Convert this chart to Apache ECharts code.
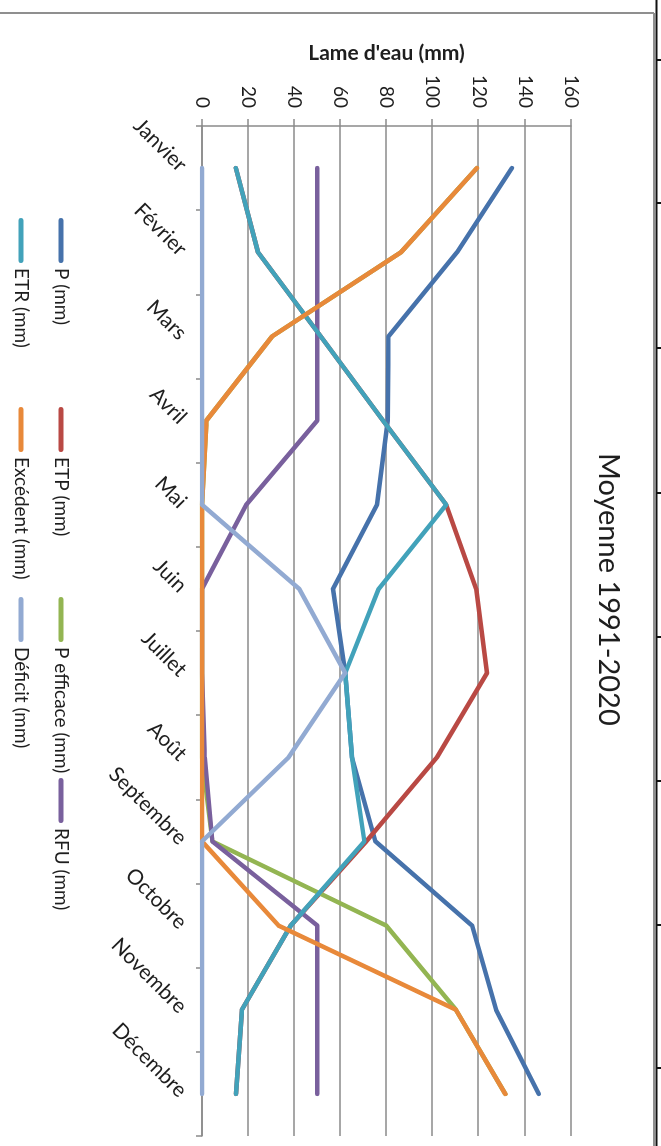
<!DOCTYPE html>
<html lang="fr">
<head>
<meta charset="utf-8">
<title>Moyenne 1991-2020</title>
<script src="https://cdn.jsdelivr.net/npm/echarts@6/dist/echarts.min.js"></script>
<style>
  html, body { margin: 0; padding: 0; background: #fff; overflow: hidden; }
  body { width: 661px; height: 1146px; position: relative; }
  /* the chart is laid out landscape and turned a quarter turn clockwise */
  #chart {
    position: absolute; left: 0; top: 0;
    width: 1146px; height: 661px;
    transform-origin: 0 0;
    transform: translate(661px, 0) rotate(90deg);
  }
</style>
</head>
<body>
<div id="chart"></div>
<script>
// Monthly water balance, 1991-2020 normals (mm)
const months = ['Janvier', 'Février', 'Mars', 'Avril', 'Mai', 'Juin', 'Juillet', 'Août', 'Septembre', 'Octobre', 'Novembre', 'Décembre'];
const valueTicks = { min: 0, max: 160, step: 20 };

const pluie      = [134.4, 110.6, 80.9, 80.5, 75.9, 56.8, 62.1, 65.0, 75.2, 117.1, 127.5, 146.0];
const etp        = [14.7, 24.3, 51.5, 78.5, 105.9, 118.9, 123.6, 101.9, 71.2, 38.5, 17.3, 14.7];
const pEfficace  = [119.2, 86.3, 30.4, 1.9, 0, 0, 0, 0, 4.5, 79.9, 110.1, 131.5];
const rfu        = [50, 50, 50, 50, 19.2, 0, 0, 1.2, 4.5, 50, 50, 50];
const etr        = [14.7, 24.3, 51.5, 78.5, 105.9, 76.6, 62.1, 65.0, 70.4, 38.5, 17.3, 14.7];
const excedent   = [119.2, 86.3, 30.4, 1.9, 0, 0, 0, 0, 0, 33.2, 110.1, 131.5];
const deficit    = [0, 0, 0, 0, 0, 42.2, 62.1, 37.6, 0, 0, 0, 0];

const FONT = 'Lato, "Open Sans", sans-serif';
const TEXT = '#1e1e1e';
const GRID = '#8a8a8a';

// capsule-shaped legend key, like a short stroke with round ends
const KEY_ICON = 'path://M2.5,0 L42.5,0 A2.5,2.5 0 0 1 42.5,5 L2.5,5 A2.5,2.5 0 0 1 2.5,0 Z';

function lineSeries(name, data, color) {
  return {
    name: name,
    type: 'line',
    data: data,
    symbol: 'none',
    smooth: false,
    color: color,
    itemStyle: { color: color },
    lineStyle: { width: 4.5, color: color, cap: 'round', join: 'round' },
    emphasis: { disabled: true }
  };
}

function legendColumn(names, left) {
  return {
    data: names.map(function (n) { return { name: n, icon: KEY_ICON }; }),
    orient: 'vertical',
    left: left,
    top: 584,
    itemWidth: 45,
    itemHeight: 5,
    itemGap: 18,
    selectedMode: false,
    textStyle: { fontFamily: FONT, fontSize: 19, color: TEXT, lineHeight: 22 }
  };
}

// ruler marks along the page edge
const rulerMarks = [60, 203, 348, 493, 637, 781, 925, 1068];

const chart = echarts.init(document.getElementById('chart'), null, { renderer: 'canvas', width: 1146, height: 661 });

chart.setOption({
  animation: false,
  backgroundColor: '#ffffff',
  title: {
    text: 'Moyenne 1991-2020',
    left: 448,
    top: 33,
    textStyle: { fontFamily: FONT, fontWeight: 'normal', fontSize: 29, color: TEXT }
  },
  legend: [
    legendColumn(['P (mm)', 'ETR (mm)'], 213),
    legendColumn(['ETP (mm)', 'Excédent (mm)'], 402),
    legendColumn(['P efficace (mm)', 'Déficit (mm)'], 592),
    legendColumn(['RFU (mm)'], 773)
  ],
  grid: { left: 126, right: 10, top: 90, bottom: 202, containLabel: false },
  xAxis: {
    type: 'category',
    data: months,
    boundaryGap: true,
    axisLine: { show: true, lineStyle: { color: GRID, width: 1.5 } },
    axisTick: { show: true, interval: 0, length: 6, inside: false, lineStyle: { color: GRID, width: 1.5 } },
    axisLabel: { interval: 0, rotate: 45, margin: 19, fontFamily: FONT, fontSize: 21, color: TEXT },
    splitLine: { show: false }
  },
  yAxis: {
    type: 'value',
    min: valueTicks.min,
    max: valueTicks.max,
    interval: valueTicks.step,
    name: "Lame d'eau (mm)",
    nameLocation: 'middle',
    nameRotate: 90,
    nameGap: 60,
    nameTextStyle: { fontFamily: FONT, fontWeight: 'bold', fontSize: 21, color: TEXT },
    axisLine: { show: true, lineStyle: { color: GRID, width: 1.5 } },
    axisTick: { show: true, length: 7, inside: false, lineStyle: { color: GRID, width: 1.5 } },
    axisLabel: { margin: 18, fontFamily: FONT, fontSize: 19, color: TEXT },
    splitLine: { show: true, lineStyle: { color: GRID, width: 1.5 } }
  },
  series: [
    lineSeries('P (mm)', pluie, '#4672AB'),
    lineSeries('ETP (mm)', etp, '#B94944'),
    lineSeries('P efficace (mm)', pEfficace, '#93B552'),
    lineSeries('RFU (mm)', rfu, '#79609D'),
    lineSeries('ETR (mm)', etr, '#42A2BA'),
    lineSeries('Excédent (mm)', excedent, '#E8893A'),
    lineSeries('Déficit (mm)', deficit, '#92AAD2')
  ],
  graphic: [
    // chart frame
    { type: 'line', shape: { x1: 13, y1: 7, x2: 1146, y2: 7 }, style: { stroke: '#8f8f8f', lineWidth: 2 }, silent: true },
    { type: 'line', shape: { x1: 13, y1: 7, x2: 13, y2: 661 }, style: { stroke: '#8f8f8f', lineWidth: 2 }, silent: true },
    // page edge with ruler marks
    { type: 'line', shape: { x1: 0, y1: 4.5, x2: 1146, y2: 4.5 }, style: { stroke: '#111', lineWidth: 2 }, silent: true }
  ].concat(rulerMarks.map(function (x) {
    return { type: 'line', shape: { x1: x, y1: 0, x2: x, y2: 5 }, style: { stroke: '#111', lineWidth: 2 }, silent: true };
  }))
});
</script>
</body>
</html>
